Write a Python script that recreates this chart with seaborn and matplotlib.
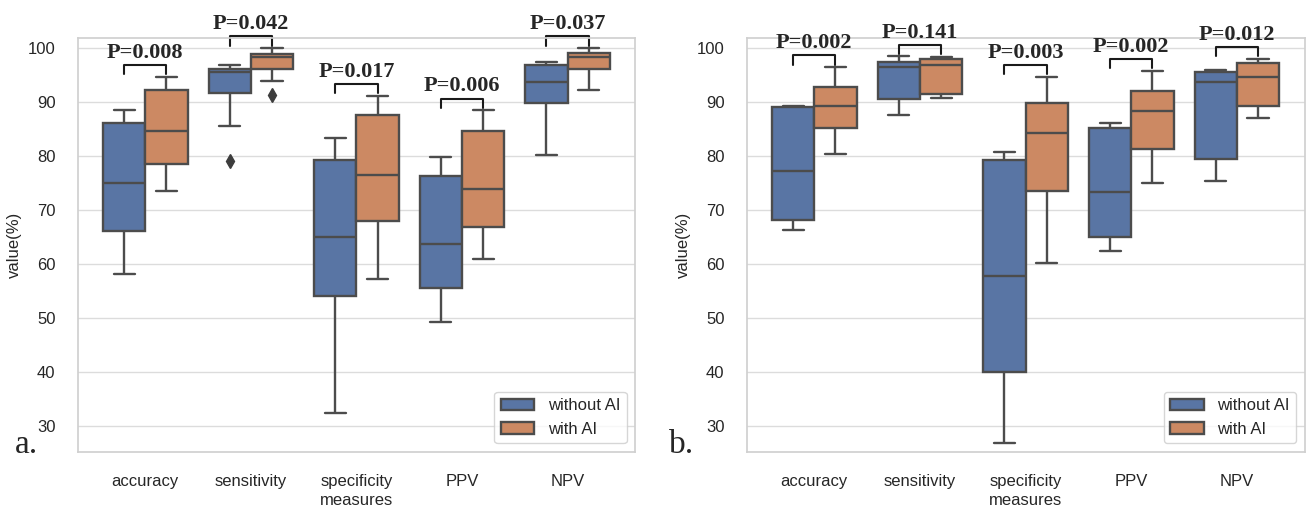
import pandas as pd
import matplotlib.pyplot as plt
import seaborn as sns

# -----------------------------
# Data (reader scores in %)
# -----------------------------
measures = ["accuracy", "sensitivity", "specificity", "PPV", "NPV"]
groups = ["without AI", "with AI"]

# panel a
a_without = [
    [58.1, 62.0, 66.1, 71.0, 75.1, 80.0, 86.2, 87.5, 88.5],
    [79.1, 85.6, 91.8, 94.0, 95.6, 95.9, 96.2, 96.6, 97.0],
    [32.5, 45.0, 54.1, 60.0, 65.1, 72.0, 79.3, 81.0, 83.3],
    [49.3, 52.0, 55.5, 60.0, 63.8, 70.0, 76.4, 78.0, 79.8],
    [80.2, 85.0, 89.9, 92.0, 93.8, 95.5, 96.9, 97.2, 97.5],
]
a_with = [
    [73.5, 76.0, 78.6, 82.0, 84.7, 88.0, 92.2, 93.5, 94.7],
    [91.4, 93.9, 96.2, 97.3, 98.3, 98.6, 98.9, 99.5, 100.0],
    [57.2, 63.0, 68.0, 72.0, 76.6, 82.0, 87.6, 89.5, 91.2],
    [61.0, 64.0, 66.9, 70.0, 73.9, 79.0, 84.7, 86.5, 88.5],
    [92.2, 94.0, 96.1, 97.3, 98.3, 98.7, 99.1, 99.6, 100.0],
]
a_pvals = ["0.008", "0.042", "0.017", "0.006", "0.037"]

# panel b
b_without = [
    [66.4, 67.2, 68.1, 72.0, 77.2, 83.0, 89.1, 89.2, 89.3],
    [87.7, 89.0, 90.6, 94.0, 96.5, 97.0, 97.5, 98.0, 98.5],
    [26.9, 33.0, 40.1, 50.0, 57.8, 68.0, 79.3, 80.0, 80.7],
    [62.5, 63.8, 65.1, 69.0, 73.3, 79.0, 85.3, 85.8, 86.2],
    [75.4, 77.5, 79.5, 87.0, 93.8, 94.8, 95.7, 95.8, 95.9],
]
b_with = [
    [80.4, 83.0, 85.3, 87.5, 89.3, 91.0, 92.8, 94.5, 96.5],
    [90.8, 91.1, 91.5, 94.0, 96.9, 97.5, 98.0, 98.2, 98.4],
    [60.3, 67.0, 73.5, 79.0, 84.4, 87.0, 89.9, 92.5, 94.7],
    [75.1, 78.0, 81.3, 85.0, 88.3, 90.0, 92.0, 94.0, 95.8],
    [87.1, 88.2, 89.3, 92.0, 94.7, 96.0, 97.2, 97.6, 98.0],
]
b_pvals = ["0.002", "0.141", "0.003", "0.002", "0.012"]


def to_long(without, with_ai):
    rows = []
    for grp, lists in zip(groups, [without, with_ai]):
        for m, vals in zip(measures, lists):
            for v in vals:
                rows.append({"measures": m, "group": grp, "value": v})
    return pd.DataFrame(rows)


sns.set_theme(style="whitegrid", palette="deep",
              rc={"grid.color": "#dcdcdc", "axes.edgecolor": "#d0d0d0"})
plt.rcParams["font.family"] = ["Liberation Sans", "DejaVu Sans"]

fig = plt.figure(figsize=(13.07, 5.07), dpi=100)
ax_a = fig.add_axes([0.0595, 0.109, 0.4264, 0.817])
ax_b = fig.add_axes([0.5713, 0.109, 0.4268, 0.817])


def draw_panel(ax, without, with_ai, pvals):
    df = to_long(without, with_ai)
    sns.boxplot(data=df, x="measures", y="value", hue="group", ax=ax,
                order=measures, hue_order=groups, linewidth=1.7,
                flierprops=dict(marker="d", markersize=7,
                                markerfacecolor="#3d3d3d",
                                markeredgecolor="#3d3d3d"))
    ax.set_ylim(25.25, 102.0)
    ax.set_yticks([30, 40, 50, 60, 70, 80, 90, 100])
    ax.set_xticks(range(len(measures)))
    ax.set_xticklabels(measures)
    ax.set_ylabel("value(%)", fontsize=12)
    ax.set_xlabel("measures", fontsize=12, labelpad=3)
    ax.tick_params(axis="both", labelsize=12, pad=10)
    ax.xaxis.grid(False)

    # p-value brackets
    for i, p in enumerate(pvals):
        top = max(max(without[i]), max(with_ai[i])) + 2.2
        x1, x2 = i - 0.2, i + 0.2
        ax.plot([x1, x1, x2, x2], [top - 1.7, top, top, top - 1.7],
                color="#1a1a1a", lw=1.5, clip_on=False)
        ax.text(i, top + 1.3, f"P={p}", ha="center", va="baseline",
                fontsize=16, fontweight="bold",
                family=["Liberation Serif", "DejaVu Serif"], clip_on=False)

    sns.move_legend(ax, "lower right", title=None, fontsize=12)


draw_panel(ax_a, a_without, a_with, a_pvals)
draw_panel(ax_b, b_without, b_with, b_pvals)

fig.text(0.011, 0.107, "a.", fontsize=24, family=["Liberation Serif", "DejaVu Serif"])
fig.text(0.512, 0.107, "b.", fontsize=24, family=["Liberation Serif", "DejaVu Serif"])

plt.savefig("out.png", dpi=100)
